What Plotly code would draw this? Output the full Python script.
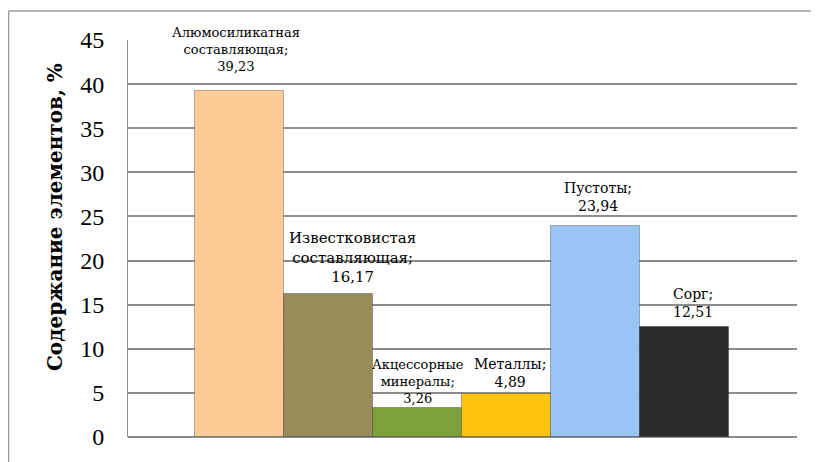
import plotly.graph_objects as go

categories = ["Алюмосиликатная составляющая", "Известковистая составляющая",
              "Акцессорные минералы", "Металлы", "Пустоты", "Сорг"]
values = [39.23, 16.17, 3.26, 4.89, 23.94, 12.51]
y_ticks = [0, 5, 10, 15, 20, 25, 30, 35, 40, 45]
y_title = "Содержание элементов, %"

# styling (not data)
bar_colors = ["#FCCB98", "#978C5A", "#7FA13B", "#FFC40F", "#98C4F6", "#2A2A2A"]
label_xshift = [-3, 24, 0, 3, 2, 8]
label_yshift = [15, 6, 0, 2, 10, 5]
label_size = [13, 15, 13, 14, 14, 14]
FONT = "DejaVu Serif"
TICKFONT = "Liberation Serif"

fig = go.Figure()
fig.add_trace(go.Bar(
    x=categories, y=values, width=1,
    marker=dict(color=bar_colors, line=dict(color="rgba(0,0,0,0.28)", width=1)),
    hoverinfo="x+y",
))

for i, (c, v) in enumerate(zip(categories, values)):
    txt = c.replace(" ", "<br>") + ";<br>" + f"{v:.2f}".replace(".", ",")
    fig.add_annotation(x=c, y=v, xref="x", yref="y", text=txt, showarrow=False,
                       yanchor="bottom", xanchor="center",
                       xshift=label_xshift[i], yshift=label_yshift[i],
                       font=dict(family=FONT, size=label_size[i], color="#000000"))

# y-axis title as rotated annotation
fig.add_annotation(x=-0.11, y=0.555, xref="paper", yref="paper", text="<b>" + y_title + "</b>",
                   textangle=-90, showarrow=False, xanchor="center", yanchor="middle",
                   font=dict(family=FONT, size=20, color="#000000"))

# outer frame (top and left edges visible)
fig.add_shape(type="line", xref="paper", yref="paper", x0=-0.1786, x1=1.1, y0=1.073, y1=1.073,
              line=dict(color="#9a9a9a", width=1.5))
fig.add_shape(type="line", xref="paper", yref="paper", x0=-0.1786, x1=-0.1786, y0=1.073, y1=-0.1,
              line=dict(color="#9a9a9a", width=1.5))

fig.update_layout(
    width=811, height=454,
    margin=dict(l=120, r=22, t=32, b=25),
    paper_bgcolor="white", plot_bgcolor="white",
    showlegend=False, bargap=0,
    font=dict(family=FONT, color="#000000"),
    xaxis=dict(range=[-1.25, 6.26], showticklabels=False, showgrid=False, zeroline=False,
               showline=False, ticks="", fixedrange=True),
    yaxis=dict(range=[0, 45], tickvals=y_ticks, ticktext=[str(t) for t in y_ticks],
               showgrid=True, gridcolor="#8c8c8c", gridwidth=1.5,
               zeroline=True, zerolinecolor="#8c8c8c", zerolinewidth=1.5,
               showline=True, linecolor="#8c8c8c", linewidth=1,
               ticks="", ticklabelstandoff=18,
               tickfont=dict(family=TICKFONT, size=24, color="#000000")),
)

fig.write_html("out.html")
